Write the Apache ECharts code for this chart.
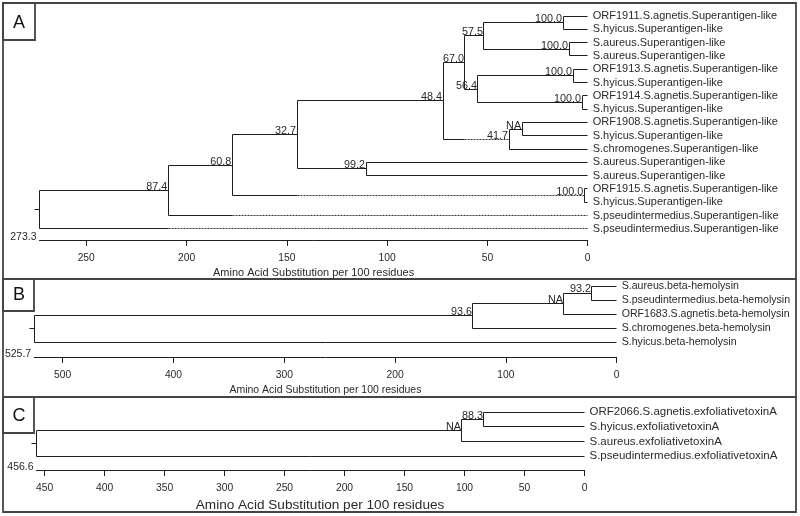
<!DOCTYPE html>
<html><head><meta charset="utf-8">
<script src="https://cdn.jsdelivr.net/npm/echarts@6/dist/echarts.min.js"></script>
<style>html,body{margin:0;padding:0;background:#fff}#c{width:800px;height:516px}</style>
</head><body><div id="c"></div>
<script>
// ---------- Panel A : Superantigen-like ----------
const leavesA = [
  'ORF1911.S.agnetis.Superantigen-like','S.hyicus.Superantigen-like',
  'S.aureus.Superantigen-like','S.aureus.Superantigen-like',
  'ORF1913.S.agnetis.Superantigen-like','S.hyicus.Superantigen-like',
  'ORF1914.S.agnetis.Superantigen-like','S.hyicus.Superantigen-like',
  'ORF1908.S.agnetis.Superantigen-like','S.hyicus.Superantigen-like',
  'S.chromogenes.Superantigen-like','S.aureus.Superantigen-like',
  'S.aureus.Superantigen-like','ORF1915.S.agnetis.Superantigen-like',
  'S.hyicus.Superantigen-like','S.pseudintermedius.Superantigen-like',
  'S.pseudintermedius.Superantigen-like'
];
const nodeChildrenA = [[0,1],[2,3],['n0','n1'],[4,5],[6,7],['n3','n4'],['n2','n5'],[8,9],['n7',10],
  ['n6','n8'],[11,12],['n9','n10'],[13,14],['n11','n12'],['n13',15],['n14',16]];
const nodeHeightsA = [12.3,9.3,51.7,7.3,2.8,54.7,61.2,32.7,39.2,72.1,110.5,144.9,1.7,177.2,209.1,273.3];
const nodeSupportA = ['100.0','100.0','57.5','100.0','100.0','56.4','67.0','NA','41.7','48.4','99.2','32.7','100.0','60.8','87.4',''];
const dashedA = [[16,209.1],[15,177.2],['n12',144.9],['n8',61.2]];
const ticksA = [0,50,100,150,200,250];

// ---------- Panel B : beta-hemolysin ----------
const leavesB = ['S.aureus.beta-hemolysin','S.pseudintermedius.beta-hemolysin','ORF1683.S.agnetis.beta-hemolysin',
  'S.chromogenes.beta-hemolysin','S.hyicus.beta-hemolysin'];
const nodeChildrenB = [[0,1],['n0',2],['n1',3],['n2',4]];
const nodeHeightsB = [22.3,47.6,129.7,525.7];
const nodeSupportB = ['93.2','NA','93.6',''];
const dashedB = [];
const ticksB = [0,100,200,300,400,500];

// ---------- Panel C : exfoliative toxin A ----------
const leavesC = ['ORF2066.S.agnetis.exfoliativetoxinA','S.hyicus.exfoliativetoxinA',
  'S.aureus.exfoliativetoxinA','S.pseudintermedius.exfoliativetoxinA'];
const nodeChildrenC = [[0,1],['n0',2],['n1',3]];
const nodeHeightsC = [83.8,102.1,456.6];
const nodeSupportC = ['88.3','NA',''];
const dashedC = [];
const ticksC = [0,50,100,150,200,250,300,350,400,450];

const axisName = 'Amino Acid Substitution per 100 residues';
const FONT = '"Liberation Sans", Arial, sans-serif';
const LINE = '#1e1e1e', TXT = '#2a2a2a';

function buildTree(leaves, children, heights, support, dashed, ymax) {
  const ny = [];
  const pos = r => typeof r === 'number' ? {h:0, y:r} : {h:heights[+r.slice(1)], y:ny[+r.slice(1)]};
  const segs = [], texts = [];
  children.forEach((ch, i) => {
    const a = pos(ch[0]), b = pos(ch[1]);
    ny[i] = (a.y + b.y) / 2;
    const h = heights[i];
    segs.push([h, a.y, h, b.y, 0]);
    ch.forEach((ref, k) => {
      const c = k ? b : a;
      const d = dashed.find(e => e[0] === ref);
      if (d) { segs.push([h, c.y, d[1], c.y, 0]); segs.push([d[1], c.y, c.h, c.y, 1]); }
      else segs.push([h, c.y, c.h, c.y, 0]);
    });
    if (support[i]) texts.push({v:[h, ny[i]], t:support[i], k:'s'});
  });
  const r = children.length - 1;
  segs.push([heights[r], ny[r], heights[r], ny[r], 2]);
  leaves.forEach((n, i) => texts.push({v:[0, i], t:n, k:'l'}));
  texts.push({v:[heights[r], ymax], t:heights[r].toFixed(1), k:'r'});
  return {segs, texts};
}

const panels = [
  {leaves:leavesA, ch:nodeChildrenA, h:nodeHeightsA, s:nodeSupportA, d:dashedA, ticks:ticksA, interval:50,
   grid:{left:39.5, right:212.3, top:16, height:224}, ymax:16.84, nameSize:11, namePad:0, nameGap:27.5, leafSize:11},
  {leaves:leavesB, ch:nodeChildrenB, h:nodeHeightsB, s:nodeSupportB, d:dashedB, ticks:ticksB, interval:100,
   grid:{left:34.2, right:183.3, top:286, height:71}, ymax:5.07, nameSize:10.5, namePad:0, nameGap:27.5, leafSize:10.6},
  {leaves:leavesC, ch:nodeChildrenC, h:nodeHeightsC, s:nodeSupportC, d:dashedC, ticks:ticksC, interval:50,
   grid:{left:36.6, right:215.5, top:412, height:58}, ymax:3.95, nameSize:13.6, namePad:19, nameGap:28, leafSize:11.5}
];

const grids = [], xAxes = [], yAxes = [], series = [];
panels.forEach((p, gi) => {
  const root = p.h[p.h.length - 1];
  const t = buildTree(p.leaves, p.ch, p.h, p.s, p.d, p.ymax);
  grids.push(p.grid);
  xAxes.push({
    gridIndex:gi, type:'value', inverse:true, min:0, max:root, interval:p.interval, position:'bottom',
    axisLine:{onZero:false, lineStyle:{color:LINE, width:1}},
    axisTick:{length:6, customValues:p.ticks, lineStyle:{color:LINE}},
    axisLabel:{customValues:p.ticks, margin:13, fontSize:10.3, color:TXT, fontFamily:FONT},
    splitLine:{show:false},
    name:axisName, nameLocation:'middle', nameGap:p.nameGap,
    nameTextStyle:{fontSize:p.nameSize, color:TXT, fontFamily:FONT, padding:[0,0,0,p.namePad]}
  });
  yAxes.push({gridIndex:gi, type:'value', inverse:true, min:0, max:p.ymax, show:false});
  series.push({
    type:'custom', xAxisIndex:gi, yAxisIndex:gi, silent:true, clip:false,
    data:t.segs, encode:{x:[0,2], y:[1,3]},
    renderItem(params, api) {
      const p1 = api.coord([api.value(0), api.value(1)]);
      const p2 = api.coord([api.value(2), api.value(3)]);
      const f = api.value(4);
      if (f === 2) p1[0] -= 5;
      const r = v => Math.round(v - 0.5) + 0.5;
      return {type:'line', shape:{x1:r(p1[0]), y1:r(p1[1]), x2:r(p2[0]), y2:r(p2[1])},
        style:{stroke: f === 1 ? '#333' : LINE, lineWidth:1, lineDash: f === 1 ? [2,1] : null}};
    }
  });
  series.push({
    type:'custom', xAxisIndex:gi, yAxisIndex:gi, silent:true, clip:false,
    data:t.texts.map(o => o.v), encode:{x:0, y:1},
    renderItem(params, api) {
      const o = t.texts[params.dataIndex];
      const c = api.coord([api.value(0), api.value(1)]);
      let x = c[0], y = c[1], align = 'left', va = 'middle', fs = p.leafSize;
      if (o.k === 'l') { x += 5; }
      else if (o.k === 's') { x -= 1; y += 2; align = 'right'; va = 'bottom'; fs = 10.8; }
      else { x -= 3; y -= 3; align = 'right'; fs = 10.5; }
      return {type:'text', x:x, y:y, style:{text:o.t, fill:TXT, font:fs + 'px ' + FONT, align:align, verticalAlign:va}};
    }
  });
});

const boxStyle = {fill:'none', stroke:'#444', lineWidth:1.8};
const graphic = [
  {type:'rect', shape:{x:3, y:3, width:793, height:276}, style:boxStyle, silent:true},
  {type:'rect', shape:{x:3, y:279, width:793, height:118}, style:boxStyle, silent:true},
  {type:'rect', shape:{x:3, y:397, width:793, height:115}, style:boxStyle, silent:true},
  {type:'rect', shape:{x:3, y:3, width:32, height:37}, style:boxStyle, silent:true},
  {type:'rect', shape:{x:3, y:279, width:31, height:32}, style:boxStyle, silent:true},
  {type:'rect', shape:{x:3, y:397, width:31, height:36}, style:boxStyle, silent:true},
  {type:'text', x:19, y:23, style:{text:'A', font:'18px ' + FONT, fill:'#111', align:'center', verticalAlign:'middle'}, silent:true},
  {type:'text', x:19, y:295, style:{text:'B', font:'18px ' + FONT, fill:'#111', align:'center', verticalAlign:'middle'}, silent:true},
  {type:'text', x:19, y:416, style:{text:'C', font:'18px ' + FONT, fill:'#111', align:'center', verticalAlign:'middle'}, silent:true}
];

const chart = echarts.init(document.getElementById('c'), null, {renderer:'canvas'});
chart.setOption({
  animation:false, backgroundColor:'#fff',
  grid:grids, xAxis:xAxes, yAxis:yAxes, series:series, graphic:graphic
});
</script></body></html>
